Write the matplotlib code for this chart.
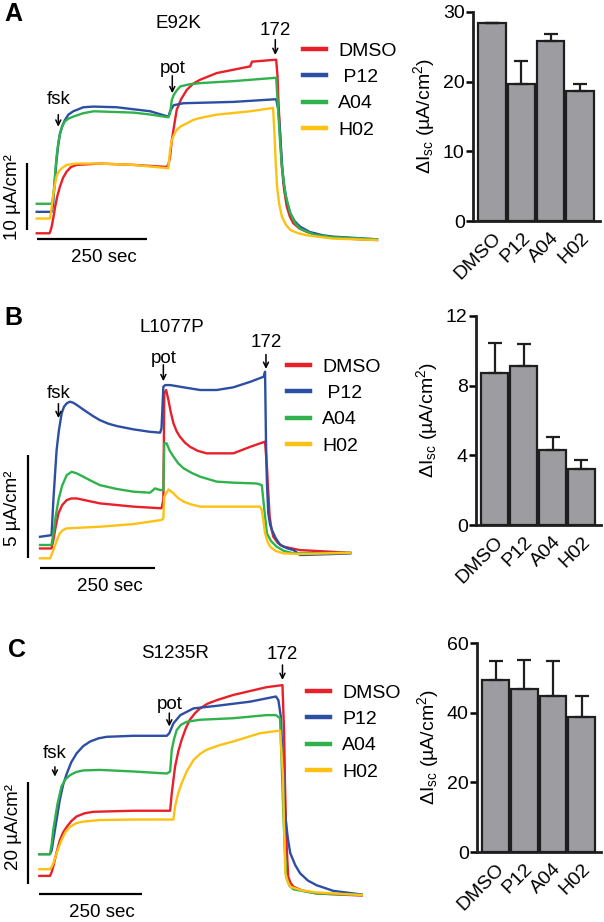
import matplotlib
matplotlib.use("Agg")
import matplotlib.pyplot as plt

plt.rcParams['font.family'] = ['Liberation Sans', 'DejaVu Sans']
plt.rcParams['mathtext.fontset'] = 'custom'
plt.rcParams['mathtext.rm'] = 'Liberation Sans'
plt.rcParams['mathtext.it'] = 'Liberation Sans:italic'

W, H = 604, 922

# colours of the four conditions
names = ['DMSO', 'P12', 'A04', 'H02']
colors = ['#e8202a', '#2c4ea3', '#2fb24b', '#fdc113']

# ---------- panel A  (E92K), time in s, Isc in uA/cm2 ----------
a_red_t = [0, 29, 31, 34, 38, 42, 47, 53, 60, 68, 78, 91, 144, 220, 295, 299, 303, 307, 312, 318, 328, 341, 355, 371, 409, 447, 485, 489, 544, 547, 549, 553, 557, 562, 568, 575, 583, 597, 614, 640, 674, 720, 773]
a_red_v = [1.0, 1.0, 1.3, 2.0, 3.4, 5.0, 6.6, 8.0, 9.3, 10.2, 10.9, 11.2, 11.4, 11.2, 10.9, 11.2, 12.4, 14.9, 17.0, 19.4, 21.0, 22.4, 23.3, 23.9, 24.9, 25.4, 25.9, 26.6, 26.9, 24.5, 20.9, 15.5, 10.9, 7.5, 5.0, 3.5, 2.5, 1.7, 1.2, 0.7, 0.4, 0.15, 0.0]
a_blue_t = [0, 34, 37, 39, 42, 45, 49, 53, 58, 64, 72, 83, 106, 129, 182, 258, 299, 303, 311, 333, 447, 544, 549, 553, 557, 561, 568, 576, 586, 598, 620, 650, 674, 773]
a_blue_v = [4.2, 4.2, 5.2, 7.0, 9.5, 11.9, 14.2, 15.9, 17.0, 17.9, 18.7, 19.2, 19.8, 19.9, 19.8, 19.2, 18.4, 19.2, 20.1, 20.4, 20.6, 21.0, 19.4, 15.9, 11.5, 8.5, 5.8, 4.0, 2.8, 2.0, 1.2, 0.7, 0.5, 0.1]
a_green_t = [0, 34, 37, 39, 42, 45, 49, 53, 58, 64, 72, 83, 105, 129, 175, 220, 260, 299, 303, 307, 311, 318, 326, 345, 371, 447, 544, 547, 552, 557, 565, 576, 586, 598, 630, 674, 773]
a_green_v = [5.4, 5.4, 6.3, 7.5, 10.0, 12.4, 14.5, 15.9, 16.9, 17.7, 18.1, 18.4, 18.9, 19.2, 19.1, 19.0, 18.7, 18.3, 18.9, 20.9, 21.6, 22.3, 22.9, 23.2, 23.4, 23.7, 24.2, 20.9, 15.5, 10.9, 6.8, 4.0, 2.6, 1.7, 0.8, 0.4, 0.1]
a_yel_t = [0, 30, 33, 36, 40, 45, 51, 57, 68, 91, 144, 220, 299, 303, 307, 312, 318, 328, 341, 355, 371, 409, 485, 537, 540, 543, 546, 551, 557, 566, 576, 594, 614, 674, 773]
a_yel_v = [3.2, 3.2, 4.3, 6.0, 7.8, 9.5, 10.3, 10.7, 11.2, 11.4, 11.4, 11.2, 10.7, 13.4, 14.9, 15.7, 16.4, 17.0, 17.4, 17.9, 18.2, 18.7, 19.2, 19.7, 15.9, 11.5, 8.0, 5.3, 3.5, 2.3, 1.5, 1.0, 0.7, 0.2, 0.0]

# ---------- panel B  (L1077P) ----------
b_red_t = [0, 25, 29, 34, 40, 48, 58, 68, 80, 130, 203, 264, 268, 270, 274, 279, 284, 290, 297, 304, 315, 326, 343, 362, 420, 457, 489, 493, 496, 499, 503, 507, 517, 529, 565, 674]
b_red_v = [0.24, 0.24, 0.65, 1.3, 1.95, 2.35, 2.60, 2.68, 2.68, 2.44, 2.28, 2.20, 2.60, 7.80, 7.97, 7.48, 6.9, 6.34, 5.95, 5.69, 5.4, 5.20, 5.0, 4.88, 4.88, 5.20, 5.45, 4.23, 3.0, 1.79, 1.2, 0.81, 0.5, 0.33, 0.16, 0.03]
b_blue_t = [0, 25, 29, 33, 36, 41, 47, 52, 58, 65, 72, 80, 90, 101, 115, 130, 148, 167, 203, 239, 261, 264, 268, 272, 283, 312, 348, 384, 420, 457, 486, 489, 491, 493, 496, 500, 504, 512, 522, 537, 551, 565, 638, 674]
b_blue_v = [0.81, 0.89, 2.60, 4.0, 5.04, 6.0, 6.83, 7.15, 7.32, 7.40, 7.35, 7.24, 7.08, 6.91, 6.70, 6.50, 6.33, 6.21, 6.05, 5.93, 5.89, 6.10, 8.13, 8.21, 8.21, 8.10, 7.97, 7.97, 8.10, 8.37, 8.62, 8.86, 5.53, 3.5, 1.95, 1.4, 1.14, 0.75, 0.41, 0.25, 0.16, -0.08, -0.03, 0.0]
b_green_t = [0, 25, 29, 34, 40, 48, 58, 69, 80, 94, 110, 130, 165, 203, 239, 250, 261, 268, 270, 275, 282, 290, 300, 312, 330, 348, 384, 420, 471, 482, 486, 490, 493, 502, 514, 530, 551, 674]
b_green_v = [0.41, 0.41, 0.98, 1.8, 2.60, 3.3, 3.82, 3.98, 3.9, 3.74, 3.55, 3.33, 3.15, 3.01, 2.96, 3.17, 3.09, 3.09, 5.37, 5.37, 5.0, 4.72, 4.4, 4.15, 3.92, 3.74, 3.50, 3.45, 3.41, 3.33, 2.44, 1.6, 0.98, 0.6, 0.33, 0.12, 0.0, 0.03]
b_yel_t = [0, 22, 29, 36, 43, 50, 58, 130, 203, 264, 268, 270, 279, 290, 300, 312, 330, 348, 420, 478, 482, 486, 489, 494, 500, 512, 529, 565, 674]
b_yel_v = [-0.24, -0.24, 0.16, 0.6, 0.98, 1.14, 1.22, 1.30, 1.43, 1.63, 1.71, 2.76, 3.12, 2.93, 2.70, 2.52, 2.38, 2.28, 2.28, 2.28, 2.11, 1.5, 0.98, 0.6, 0.33, 0.12, 0.0, -0.03, 0.03]

# ---------- panel C  (S1235R) ----------
c_red_t = [0, 26, 30, 34, 42, 50, 58, 67, 78, 91, 110, 132, 229, 319, 323, 331, 339, 347, 357, 367, 380, 392, 410, 433, 473, 554, 593, 597, 599, 602, 605, 607, 613, 620, 640, 676, 786]
c_red_v = [3.7, 3.7, 4.4, 5.5, 8.2, 10.6, 12.1, 13.2, 14.3, 15.2, 15.8, 16.1, 16.3, 16.3, 19.7, 24.8, 27.8, 30.0, 32.2, 33.9, 35.2, 36.1, 37.0, 37.7, 38.7, 40.2, 40.6, 31.3, 22.0, 11.9, 6.5, 3.5, 2.3, 1.6, 0.9, 0.3, -0.1]
c_blue_t = [0, 26, 30, 34, 42, 50, 58, 67, 78, 91, 107, 124, 144, 164, 229, 311, 317, 327, 344, 376, 433, 514, 577, 583, 589, 594, 600, 606, 612, 624, 636, 655, 676, 717, 786]
c_blue_v = [7.9, 7.9, 8.6, 10.6, 14.5, 18.4, 21.3, 23.5, 25.7, 27.4, 28.8, 29.7, 30.3, 30.6, 30.8, 30.8, 31.3, 33.2, 34.8, 36.1, 36.6, 37.4, 38.4, 37.7, 34.5, 24.8, 15.2, 11.0, 8.1, 5.8, 4.2, 2.8, 1.9, 0.8, 0.1]
c_green_t = [0, 26, 30, 34, 44, 54, 64, 75, 90, 107, 148, 229, 311, 319, 323, 329, 335, 345, 359, 392, 473, 554, 577, 587, 590, 594, 598, 602, 610, 620, 676, 786]
c_green_v = [7.9, 7.9, 9.8, 12.6, 17.5, 21.0, 22.4, 23.2, 23.8, 24.1, 24.2, 23.9, 23.5, 23.9, 28.1, 30.3, 31.9, 32.9, 33.5, 33.9, 34.2, 34.8, 34.8, 34.2, 28.0, 18.4, 10.0, 3.5, 1.8, 1.1, 0.3, 0.0]
c_yel_t = [0, 26, 30, 34, 44, 54, 64, 75, 90, 107, 148, 229, 327, 331, 338, 347, 360, 376, 392, 408, 440, 473, 538, 587, 594, 597, 600, 606, 612, 640, 676, 786]
c_yel_v = [5.0, 5.0, 5.4, 6.1, 8.5, 10.6, 12.2, 13.2, 13.9, 14.2, 14.5, 14.6, 14.6, 17.1, 19.5, 21.6, 24.0, 26.1, 27.3, 28.1, 29.0, 29.7, 31.3, 31.8, 23.5, 13.0, 4.2, 2.5, 1.6, 0.9, 0.5, 0.0]

# ---------- bar charts: mean and upper SEM ----------
bar_a = [28.4, 19.7, 25.8, 18.7]
err_a = [0.0, 3.2, 1.0, 0.9]
bar_b = [8.75, 9.11, 4.29, 3.20]
err_b = [1.68, 1.26, 0.74, 0.53]
bar_c = [49.3, 46.8, 44.8, 38.8]
err_c = [5.5, 8.2, 10.0, 6.0]

# event times (s): arrow start, arrow end, label height
ev_a = {'fsk': (49, 18.7, 16.9, 20.9), 'pot': (308, 24.5, 21.9, 25.6), '172': (542, 29.9, 27.6, 31.3)}
ev_b = {'fsk': (40, 7.3, 6.6, 7.8), 'pot': (268, 9.2, 8.4, 9.5), '172': (491, 9.7, 9.0, 10.3)}
ev_c = {'fsk': (38, 24.8, 22.9, 27.4), 'pot': (317, 35.2, 32.6, 36.8), '172': (593, 44.5, 41.6, 46.5)}


def px_axes(x0, y0, x1, y1):
    return fig.add_axes([x0 / W, 1 - y1 / H, (x1 - x0) / W, (y1 - y0) / H])


def trace_panel(box, xlim, ylim, traces, events, title, title_pos, vbar, vlabel, vlab_pos,
                hbar_v, hlab_v, leg_xy, p12_label):
    ax = px_axes(*box)
    for (t, v), c, n in zip(traces, colors, names):
        ax.plot(t, v, color=c, lw=1.7, label=n, solid_joinstyle='round')
    ax.set_xlim(*xlim)
    ax.set_ylim(*ylim)
    ax.axis('off')
    for lab, (te, y0, y1, yt) in events.items():
        ax.annotate('', xy=(te, y1), xytext=(te, y0),
                    arrowprops=dict(arrowstyle='->', lw=1.1, color='black',
                                    shrinkA=0, shrinkB=0, mutation_scale=9))
        ax.text(te, yt, lab, ha='center', va='center', fontsize=13.5)
    ax.text(title_pos[0], title_pos[1], title, ha='center', va='center', fontsize=13.5)
    # scale bars
    ax.plot([vbar[0], vbar[0]], [vbar[1], vbar[2]], color='black', lw=1.6, solid_capstyle='butt')
    ax.text(vlab_pos[0], vlab_pos[1], vlabel, rotation=90, ha='center', va='center', fontsize=13.5)
    ax.plot([0, 250], [hbar_v, hbar_v], color='black', lw=1.6, solid_capstyle='butt')
    ax.text(125 + 27, hlab_v, '250 sec', ha='center', va='center', fontsize=13.5)
    handles, _ = ax.get_legend_handles_labels()
    labels = [names[0], p12_label, names[2], names[3]]
    leg = fig.legend(handles, labels, loc='upper left', bbox_to_anchor=(leg_xy[0] / W, 1 - leg_xy[1] / H),
                     frameon=False, fontsize=14, handlelength=1.2, handletextpad=0.6,
                     labelspacing=0.45, borderpad=0, borderaxespad=0)
    for l in leg.get_lines():
        l.set_linewidth(3.2)
    return ax


def bar_panel(box, vals, errs, ymax, step):
    ax = px_axes(*box)
    x = list(range(len(names)))
    ax.bar(x, vals, width=0.93, color='#9c9ca1', edgecolor='#1e1e1e', linewidth=1.6, zorder=2)
    ax.errorbar(x, vals, yerr=[[0] * len(errs), errs], fmt='none', ecolor='#1e1e1e',
                elinewidth=1.6, capsize=5, capthick=1.6, zorder=3)
    ax.set_xlim(-0.65, 3.68)
    ax.set_ylim(0, ymax)
    ax.set_yticks(range(0, int(ymax) + 1, step))
    ax.set_xticks(x)
    ax.set_xticklabels(names, rotation=45, ha='right', rotation_mode='anchor', fontsize=14)
    ax.tick_params(axis='x', length=0, pad=6)
    ax.tick_params(axis='y', length=5, width=1.8, labelsize=14, pad=1)
    for s in ['top', 'right']:
        ax.spines[s].set_visible(False)
    for s in ['left', 'bottom']:
        ax.spines[s].set_linewidth(2.0)
        ax.spines[s].set_color('#1e1e1e')
    ax.set_ylabel('ΔI$_{\\mathrm{sc}}$ (µA/cm$^{2}$)', fontsize=14, labelpad=4)
    return ax


fig = plt.figure(figsize=(W / 100, H / 100), dpi=100)

trace_panel((0, 0, 410, 290), (-83.4, 848), (-7.46, 35.8),
            [(a_red_t, a_red_v), (a_blue_t, a_blue_v), (a_green_t, a_green_v), (a_yel_t, a_yel_v)],
            ev_a, 'E92K', (322, 32.3), (-23, 1.5, 11.5), '10 µA/cm²', (-56, 6.4),
            0.1, -2.6, (303, 42), ' P12')
trace_panel((0, 300, 410, 595), (-87, 804), (-2.03, 12.36),
            [(b_red_t, b_red_v), (b_blue_t, b_blue_v), (b_green_t, b_green_v), (b_yel_t, b_yel_v)],
            ev_b, 'L1077P', (286, 11.0), (-27, -0.23, 4.8), '5 µA/cm²', (-59, 2.2),
            -0.7, -1.6, (287, 358), ' P12')
trace_panel((0, 605, 410, 922), (-95.9, 904), (-5.22, 56.1),
            [(c_red_t, c_red_v), (c_blue_t, c_blue_v), (c_green_t, c_green_v), (c_yel_t, c_yel_v)],
            ev_c, 'S1235R', (331, 46.8), (-27, 2.1, 21.8), '20 µA/cm²', (-64, 13.2),
            0.1, -3.3, (307, 684), 'P12')

bar_panel((473, 12, 600, 221), bar_a, err_a, 30, 10)
bar_panel((476, 316, 601, 525), bar_b, err_b, 12, 4)
bar_panel((477, 643, 601, 852), bar_c, err_c, 60, 20)

for lab, (x, y) in zip(['A', 'B', 'C'], [(13, 14), (13, 318), (17, 650)]):
    fig.text(x / W, 1 - y / H, lab, fontsize=18, fontweight='bold', ha='center', va='center')

fig.savefig('out.png', dpi=100)
